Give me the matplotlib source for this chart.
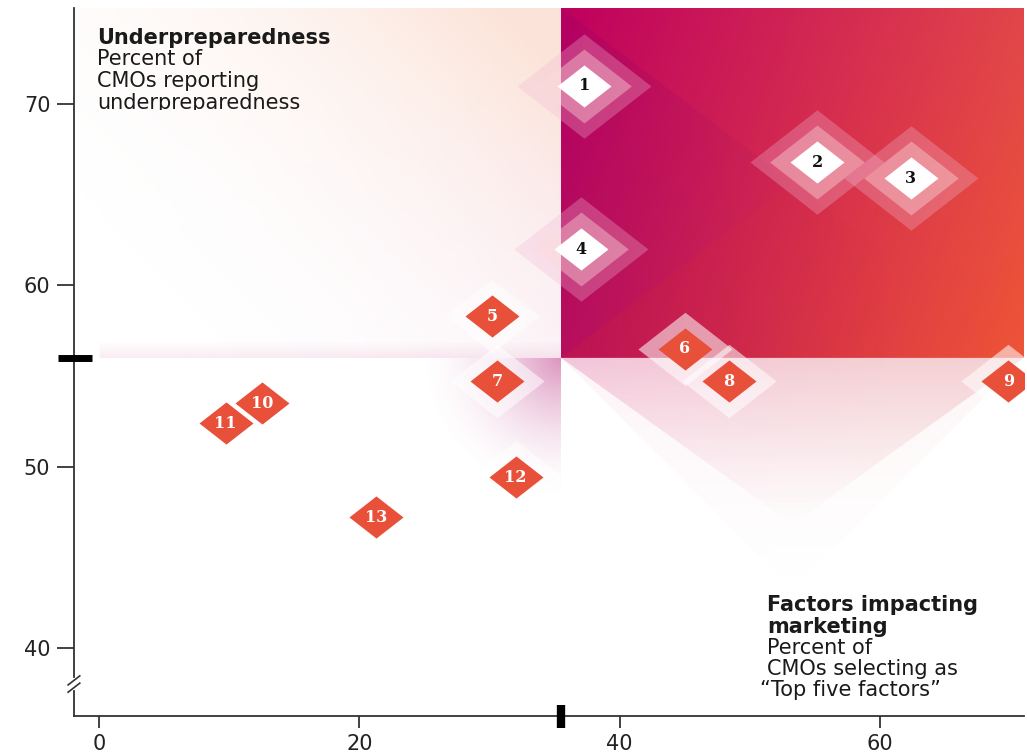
import numpy as np
import matplotlib.pyplot as plt
from matplotlib.patches import Polygon
from matplotlib.colors import to_rgb
from matplotlib.transforms import Bbox, TransformedBbox

# Values
labels = ['1', '2', '3', '4', '5', '6', '7', '8', '9', '10', '11', '12', '13']
factors = [37.3, 55.2, 62.4, 37.0, 30.2, 45.0, 30.6, 48.4, 69.9, 12.5, 9.7, 32.0, 21.3]
underprep = [71.0, 66.8, 65.9, 62.0, 58.3, 56.5, 54.7, 54.7, 54.7, 53.5, 52.4, 49.4, 47.2]
x_ticks = [0, 20, 40, 60]
y_ticks = [40, 50, 60, 70]
x_split = 35.5   # average share picking the factor
y_split = 56     # average underpreparedness

x0, x1 = -1.96, 71.1
y0, y1 = 36.24, 75.3

plt.rcParams['font.family'] = 'DejaVu Sans'

fig = plt.figure(figsize=(10.27, 7.56), dpi=100)
ax = fig.add_axes([0.072, 0.053, 0.925, 0.9365])

# grid for the background gradients
X, Y = np.meshgrid(np.linspace(x0, x1, 700), np.linspace(y0, y1, 500))


def rgb(c):
    return np.asarray(to_rgb(c)) if isinstance(c, str) else c


def mix(c1, c2, t):
    t = np.clip(t, 0, 1)[..., None]
    return rgb(c1) * (1 - t) + rgb(c2) * t


def paint(col, alpha, clip):
    img = np.zeros(X.shape + (4,))
    img[..., :3] = rgb(col)
    img[..., 3] = np.clip(alpha, 0, 1)
    im = ax.imshow(img, extent=(x0, x1, y0, y1), origin='lower', aspect='auto',
                   interpolation='bilinear', zorder=1)
    im.set_clip_path(Polygon(clip, closed=True, transform=ax.transData))


u = (X - x_split) / (x1 - x_split)
v = (Y - y_split) / (y1 - y_split)
top_right = [(x_split, y1), (x1, y1), (x1, y_split), (x_split, y_split)]
upper_left = [(x0, y_split), (x_split, y_split), (x_split, y1), (x0, y1)]
lower_left = [(x0, y_split), (x_split, y_split), (x_split, y0), (x0, y0)]

# top-right quadrant: magenta to orange
col = mix(mix('#c2135a', '#ee5436', u), mix('#bf005f', '#e1464a', u), v)
paint(col, np.ones_like(X), top_right)
xc, yc = (x_split + x1) / 2, (y_split + y1) / 2
paint('#8a0070', 0.22 * np.clip(1 - u * 1.6, 0, 1),
      [(x_split, y1), (xc, yc), (x_split, y_split)])
paint('#a0103e', 0.18 * np.clip(1 - u * 1.4, 0, 1),
      [(x_split, y_split), (xc, yc), (x1, y_split)])

# upper-left quadrant: pale peach/pink growing towards the split
w = np.clip((X - 5) / (x_split - 5) * 0.6 + v * 0.5, 0, 1) ** 2.2
paint(mix('#eeb8d0', '#f9c8b4', v * 1.3), 0.5 * w, upper_left)
strip = np.clip(1 - (Y - y_split) / 0.9, 0, 1) * (X > 0) * 0.14
paint('#d870a8', strip, upper_left)

# lower-left quadrant: pink glow in the corner
d = np.hypot((X - x_split) / 11, (Y - y_split) / 8)
paint('#c85a9c', 0.65 * np.clip(1 - d, 0, 1) ** 1.8, lower_left)

# lower-right quadrant: pink V below the split
apex_x = (x_split + x1) / 2
for slope, amax in [(0.717, 0.12), (0.516, 0.55)]:
    apex_y = y_split - slope * (apex_x - x_split)
    a = amax * np.clip((Y - apex_y) / (y_split - apex_y), 0, 1) ** 1.2
    paint(mix('#ec98c6', '#eeb0b6', u + 0.3), a,
          [(x_split, y_split), (x1, y_split), (apex_x, apex_y)])

# diamond markers with halos
diamond = [(-1, 0), (0, 0.78), (1, 0), (0, -0.78), (-1, 0)]
top_pts = [i for i in range(len(labels)) if factors[i] > x_split and underprep[i] > y_split + 2]
low_pts = [i for i in range(len(labels)) if i not in top_pts]

fx = np.array(factors)
uy = np.array(underprep)
ax.scatter(fx[top_pts], uy[top_pts], s=9300, marker=diamond, color='#f2b8d4', alpha=0.3, lw=0, zorder=3)
ax.scatter(fx[top_pts], uy[top_pts], s=4650, marker=diamond, color='#fbdcdc', alpha=0.4, lw=0, zorder=3)
ax.scatter(fx[top_pts], uy[top_pts], s=1513, marker=diamond, color='white', lw=0, zorder=4)
ax.scatter(fx[low_pts], uy[low_pts], s=4600, marker=diamond, color='white', alpha=0.55, lw=0, zorder=3)
ax.scatter(fx[low_pts], uy[low_pts], s=1513, marker=diamond, color='#e8503a', lw=0, zorder=4)

for i, lab in enumerate(labels):
    ax.text(factors[i], underprep[i], lab, ha='center', va='center', fontsize=11.5,
            family='DejaVu Serif', weight='bold', zorder=5,
            color='#111111' if i in top_pts else 'white')

ax.set_xlim(x0, x1)
ax.set_ylim(y0, y1)
ax.set_xticks(x_ticks)
ax.set_yticks(y_ticks)
for s in ['top', 'right']:
    ax.spines[s].set_visible(False)
for s in ['left', 'bottom']:
    ax.spines[s].set_color('#333333')
    ax.spines[s].set_linewidth(1.3)
ax.tick_params(axis='y', length=12, width=1.3, pad=5, labelsize=15, colors='#333333', labelcolor='#222222')
ax.tick_params(axis='x', length=8.6, width=1.3, pad=4.5, labelsize=15, colors='#333333', labelcolor='#222222')

# thick marks at the split values
ax.plot([x_split, x_split], [36.85, 35.58], color='black', lw=6, solid_capstyle='butt', clip_on=False, zorder=6)
ax.plot([-3.19, -0.58], [y_split, y_split], color='black', lw=5, solid_capstyle='butt', clip_on=False, zorder=6)

# axis break on the y axis
ax.plot([x0, x0], [37.8, 38.2], color='white', lw=3, clip_on=False, zorder=6)
for yb in (37.55, 37.95):
    ax.plot([x0 - 0.45, x0 + 0.45], [yb, yb + 0.5], color='#333333', lw=1.2, clip_on=False, zorder=7)

# axis titles
W, H = 1027, 756
top_left = [('Underpreparedness', 'bold', 38), ('Percent of', 'normal', 59),
            ('CMOs reporting', 'normal', 81), ('underpreparedness', 'normal', 103)]
for txt, wt, py in top_left:
    t = fig.text(97 / W, 1 - py / H, txt, fontsize=15, weight=wt, va='center', ha='left', color='#1a1a1a')
t.set_clip_box(TransformedBbox(Bbox([[0, 1 - 110 / H], [1, 1]]), fig.transFigure))
t.set_clip_on(True)

bottom_right = [('Factors impacting', 'bold', 605, 767), ('marketing', 'bold', 627, 767),
                ('Percent of', 'normal', 648, 767), ('CMOs selecting as', 'normal', 669, 767),
                ('\u201cTop five factors\u201d', 'normal', 690, 760)]
for txt, wt, py, px in bottom_right:
    fig.text(px / W, 1 - py / H, txt, fontsize=15, weight=wt, va='center', ha='left', color='#1a1a1a')

plt.savefig('out.png', dpi=100)
